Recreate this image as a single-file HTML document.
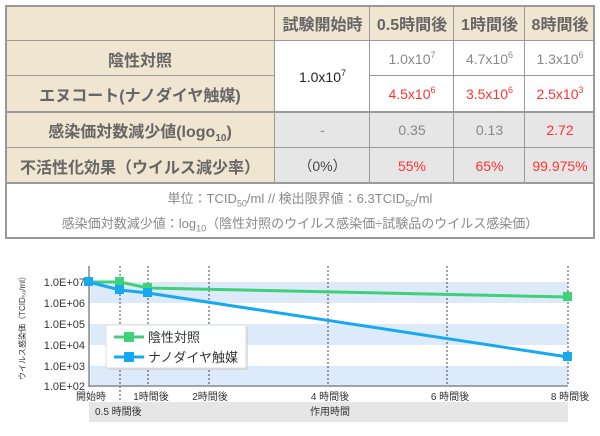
<!DOCTYPE html>
<html><head><meta charset="utf-8"><style>
body{margin:0;width:600px;height:436px;background:#fff;font-family:"Liberation Sans","Noto Sans CJK JP",sans-serif;position:relative;overflow:hidden}
.c{position:absolute;display:flex;align-items:center;justify-content:center;box-sizing:border-box;white-space:nowrap}
.b{background:#efe5d0}.g{background:#e6e6e6}
.h{font-weight:bold;color:#666;font-size:16px}
.v{color:#888;font-size:14px}.r{color:#f33;font-size:14px}
sup{font-size:9px;vertical-align:6px;line-height:0}
sub{line-height:0}
.line{position:absolute;background:#999}
</style></head><body>
<div class="c b" style="left:5px;top:5px;width:590px;height:36px"></div>
<div class="c b h" style="left:5px;top:41px;width:270px;height:35px">陰性対照</div>
<div class="c b h" style="left:5px;top:76px;width:270px;height:36px">エヌコート(ナノダイヤ触媒)</div>
<div class="c b h" style="left:5px;top:112px;width:270px;height:36px"><span>感染価対数減少値(logo<sub style="font-size:10px">10</sub>)</span></div>
<div class="c b h" style="left:5px;top:148px;width:270px;height:35px">不活性化効果（ウイルス減少率）</div>
<div class="c h" style="left:275px;top:5px;width:95px;height:36px">試験開始時</div>
<div class="c h" style="left:370px;top:5px;width:84px;height:36px">0.5時間後</div>
<div class="c h" style="left:454px;top:5px;width:71px;height:36px">1時間後</div>
<div class="c h" style="left:525px;top:5px;width:70px;height:36px">8時間後</div>
<div class="c" style="left:275px;top:41px;width:95px;height:71px;font-size:14px;color:#222"><span>1.0x10<sup>7</sup></span></div>
<div class="c v" style="left:370px;top:41px;width:84px;height:35px"><span>1.0x10<sup>7</sup></span></div>
<div class="c v" style="left:454px;top:41px;width:71px;height:35px"><span>4.7x10<sup>6</sup></span></div>
<div class="c v" style="left:525px;top:41px;width:70px;height:35px"><span>1.3x10<sup>6</sup></span></div>
<div class="c r" style="left:370px;top:76px;width:84px;height:36px"><span>4.5x10<sup>6</sup></span></div>
<div class="c r" style="left:454px;top:76px;width:71px;height:36px"><span>3.5x10<sup>6</sup></span></div>
<div class="c r" style="left:525px;top:76px;width:70px;height:36px"><span>2.5x10<sup>3</sup></span></div>
<div class="c g v" style="left:275px;top:112px;width:320px;height:71px"></div>
<div class="c v" style="left:275px;top:112px;width:95px;height:36px">-</div>
<div class="c v" style="left:370px;top:112px;width:84px;height:36px">0.35</div>
<div class="c v" style="left:454px;top:112px;width:71px;height:36px">0.13</div>
<div class="c r" style="left:525px;top:112px;width:70px;height:36px">2.72</div>
<div class="c" style="left:275px;top:148px;width:95px;height:35px;font-size:14px;color:#444">（0%）</div>
<div class="c r" style="left:370px;top:148px;width:84px;height:35px">55%</div>
<div class="c r" style="left:454px;top:148px;width:71px;height:35px">65%</div>
<div class="c r" style="left:525px;top:148px;width:70px;height:35px">99.975%</div>
<div class="c" style="left:5px;top:186px;width:590px;height:22px;font-size:13px;color:#888"><span>単位：TCID<sub style="font-size:9px">50</sub>/ml // 検出限界値：6.3TCID<sub style="font-size:9px">50</sub>/ml</span></div>
<div class="c" style="left:5px;top:210px;width:590px;height:24px;font-size:13px;color:#888"><span>感染価対数減少値：log<sub style="font-size:9px">10</sub>（陰性対照のウイルス感染価÷試験品のウイルス感染価）</span></div>
<div class="line" style="left:5px;top:5px;width:590px;height:2px"></div>
<div class="line" style="left:5px;top:40px;width:590px;height:1px"></div>
<div class="line" style="left:5px;top:75px;width:270px;height:1px"></div>
<div class="line" style="left:370px;top:75px;width:225px;height:1px"></div>
<div class="line" style="left:5px;top:111px;width:590px;height:2px"></div>
<div class="line" style="left:5px;top:147px;width:590px;height:1px"></div>
<div class="line" style="left:5px;top:182px;width:590px;height:2px"></div>
<div class="line" style="left:5px;top:237px;width:590px;height:2px"></div>
<div class="line" style="left:5px;top:5px;width:2px;height:234px"></div>
<div class="line" style="left:593px;top:5px;width:2px;height:234px"></div>
<div class="line" style="left:274px;top:5px;width:1px;height:178px"></div>
<div class="line" style="left:369px;top:5px;width:1px;height:178px"></div>
<div class="line" style="left:453px;top:5px;width:1px;height:178px"></div>
<div class="line" style="left:524px;top:5px;width:1px;height:178px"></div>
<svg style="position:absolute;left:0;top:0" width="600" height="436" font-family="Liberation Sans,Noto Sans CJK JP,sans-serif">
<rect x="89" y="282" width="479" height="21" fill="#dceafa"/>
<rect x="89" y="324" width="479" height="21" fill="#dceafa"/>
<rect x="89" y="366" width="479" height="20" fill="#dceafa"/>
<g stroke="#444" stroke-dasharray="2,2" stroke-width="1">
<line x1="120" y1="266" x2="120" y2="400"/><line x1="148" y1="266" x2="148" y2="386"/>
<line x1="209" y1="266" x2="209" y2="386"/><line x1="328" y1="266" x2="328" y2="386"/>
<line x1="447" y1="266" x2="447" y2="386"/><line x1="568" y1="266" x2="568" y2="386"/></g>
<line x1="89" y1="266" x2="89" y2="387" stroke="#888" stroke-width="1.5"/>
<line x1="89" y1="386" x2="568" y2="386" stroke="#888" stroke-width="1.5"/>
<g font-size="11" fill="#333" text-anchor="end">
<text x="85" y="286">1.0E+07</text><text x="85" y="307">1.0E+06</text><text x="85" y="328">1.0E+05</text>
<text x="85" y="349">1.0E+04</text><text x="85" y="370">1.0E+03</text><text x="85" y="390">1.0E+02</text></g>
<text transform="translate(25,326) rotate(-90)" font-size="8" fill="#333" text-anchor="middle">ウイルス感染価（TCID₅₀/ml）</text>
<polyline points="89,282 120,282 148,288 568,297" fill="none" stroke="#3fd07a" stroke-width="3"/>
<polyline points="89,282 120,290 148,293 568,357" fill="none" stroke="#16a8f0" stroke-width="3"/>
<g fill="#3fd07a"><rect x="115" y="277" width="9" height="9"/><rect x="143" y="283" width="9" height="9"/><rect x="563" y="292" width="9" height="9"/></g>
<g fill="#16a8f0"><rect x="84" y="277" width="9" height="9"/><rect x="115" y="285" width="9" height="9"/><rect x="143" y="288" width="9" height="9"/><rect x="563" y="352" width="9" height="9"/></g>
<rect x="108" y="327" width="140" height="43" fill="#ccc" opacity="0.6"/>
<rect x="106" y="325" width="140" height="43" fill="#fff" stroke="#ddd"/>
<line x1="114" y1="337" x2="144" y2="337" stroke="#3fd07a" stroke-width="3"/><rect x="124" y="332" width="10" height="10" fill="#3fd07a"/>
<line x1="114" y1="357" x2="144" y2="357" stroke="#16a8f0" stroke-width="3"/><rect x="124" y="352" width="10" height="10" fill="#16a8f0"/>
<g font-size="13" fill="#333"><text x="148" y="342">陰性対照</text><text x="148" y="362">ナノダイヤ触媒</text></g>
<g font-size="10" fill="#333" text-anchor="middle">
<text x="91" y="400">開始時</text><text x="151" y="400">1時間後</text><text x="210" y="400">2時間後</text>
<text x="330" y="400">4 時間後</text><text x="450" y="400">6 時間後</text><text x="570" y="400">8 時間後</text></g>
<rect x="89" y="402" width="479" height="20" fill="#e6e6e6"/>
<g font-size="10" fill="#333"><text x="95" y="415">0.5 時間後</text><text x="330" y="415" text-anchor="middle">作用時間</text></g>
</svg>
</body></html>
